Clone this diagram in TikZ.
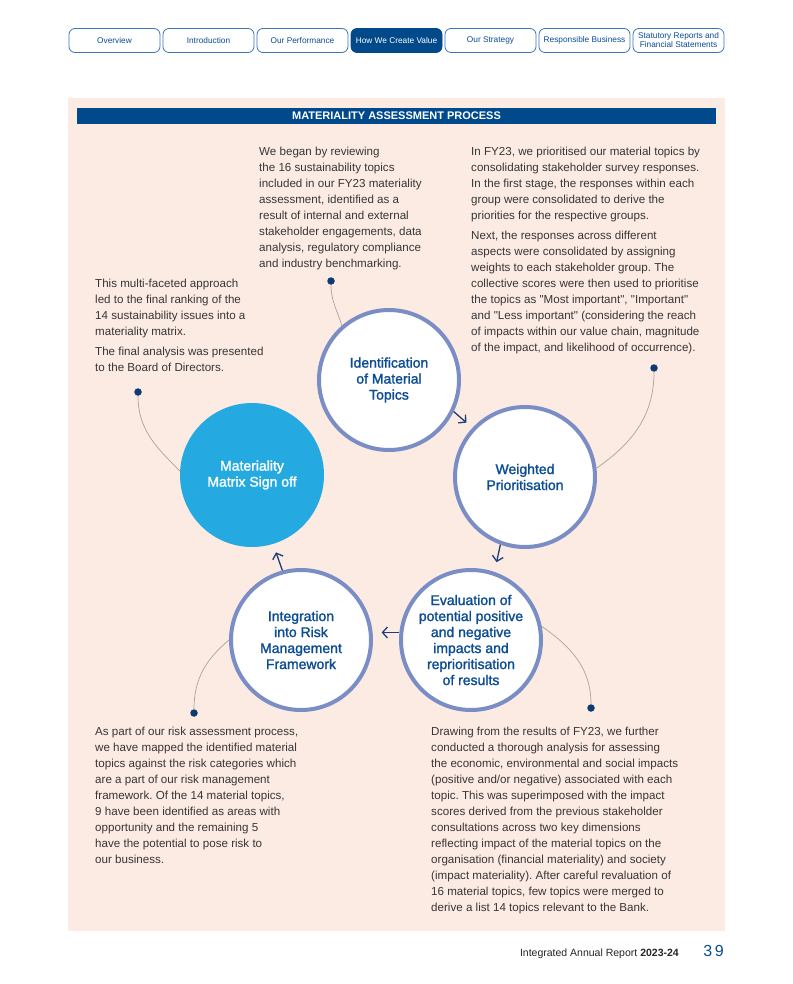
\documentclass[tikz,border=0pt]{standalone}
\usepackage{fontspec}
\setmainfont{Liberation Sans}[Ligatures=TeXOff]
\newfontfamily\stagefont[FakeBold=1.5]{Liberation Sans}
\usetikzlibrary{arrows.meta}
\frenchspacing
\definecolor{pagepink}{HTML}{FCEBE3}
\definecolor{barblue}{HTML}{004A8C}
\definecolor{ringblue}{HTML}{7B8DC5}
\definecolor{skyblue}{HTML}{24AAE1}
\definecolor{labelblue}{HTML}{0B4C94}
\definecolor{bodygrey}{HTML}{363636}
\definecolor{tabblue}{HTML}{3B74B9}
\definecolor{leadgrey}{HTML}{ABA29C}
\definecolor{dotblue}{HTML}{0E3A70}
\definecolor{tipblue}{HTML}{1C3D75}

\begin{document}
\begin{tikzpicture}[x=1pt,y=1pt]
\tikzstyle{every node}+=[inner sep=0pt]
\tikzstyle{tab}=[draw=tabblue, line width=0.8pt, rounded corners=6pt, fill=white, minimum width=91pt, minimum height=24pt, align=center, text=labelblue, font=\fontsize{8.3}{9}\selectfont]
\tikzstyle{body}=[anchor=north west, align=left, text=bodygrey, font=\fontsize{11.6}{16}\selectfont\frenchspacing]
\tikzstyle{stage}=[circle, draw=ringblue, line width=4pt, fill=white, minimum size=140pt]
\tikzstyle{stagetext}=[align=center, text=labelblue, font=\stagefont\fontsize{14}{16}\selectfont]
\tikzstyle{flow}=[draw=tipblue, line width=1.3pt, -{Straight Barb[length=5pt,width=11pt]}]
\tikzstyle{lead}=[draw=leadgrey, line width=0.7pt]
\tikzstyle{dot}=[circle, fill=dotblue, minimum size=7.5pt]
\useasboundingbox (0,0) rectangle (792,-984);
\fill [white] (0,0) rectangle (792,-984);
\foreach \i/\name in {0/Overview,1/Introduction,2/Our Performance,4/Our Strategy,5/Responsible Business,6/{Statutory Reports and\\Financial Statements}}
  \node[tab] (tab\i) at (114.5+94*\i,-40.5) {\name};
\node[tab, fill=barblue, draw=barblue, text=white] (tab3) at (396.5,-40.5) {How We Create Value};
\fill [pagepink] (68,-98) rectangle (725,-931);
\node[fill=barblue, minimum width=639pt, minimum height=16pt, text=white, font=\bfseries\fontsize{11}{12}\selectfont] (title) at (396.5,-116) {MATERIALITY ASSESSMENT PROCESS};
\node[body] (beginnote) at (259,-146.5) {We began by reviewing\\the 16 sustainability topics\\included in our FY23 materiality\\assessment, identified as a\\result of internal and external\\stakeholder engagements, data\\analysis, regulatory compliance\\and industry benchmarking.};
\node[body] (weightnote) at (471,-146.5) {In FY23, we prioritised our material topics by\\consolidating stakeholder survey responses.\\In the first stage, the responses within each\\group were consolidated to derive the\\priorities for the respective groups.\\[4pt]Next, the responses across different\\aspects were consolidated by assigning\\weights to each stakeholder group. The\\collective scores were then used to prioritise\\the topics as "Most important", "Important"\\and "Less important" (considering the reach\\of impacts within our value chain, magnitude\\of the impact, and likelihood of occurrence).};
\node[body] (signnote) at (95,-278.5) {This multi-faceted approach\\led to the final ranking of the\\14 sustainability issues into a\\materiality matrix.\\[4pt]The final analysis was presented\\to the Board of Directors.};
\node[body] (risknote) at (95,-726.5) {As part of our risk assessment process,\\we have mapped the identified material\\topics against the risk categories which\\are a part of our risk management\\framework. Of the 14 material topics,\\9 have been identified as areas with\\opportunity and the remaining 5\\have the potential to pose risk to\\our business.};
\node[body] (evalnote) at (431,-726.5) {Drawing from the results of FY23, we further\\conducted a thorough analysis for assessing\\the economic, environmental and social impacts\\(positive and/or negative) associated with each\\topic. This was superimposed with the impact\\scores derived from the previous stakeholder\\consultations across two key dimensions\\reflecting impact of the material topics on the\\organisation (financial materiality) and society\\(impact materiality). After careful revaluation of\\16 material topics, few topics were merged to\\derive a list 14 topics relevant to the Bank.};
\node[dot] (d1) at (331,-281) {};
\node[dot] (d2) at (654,-368) {};
\node[dot] (d3) at (138,-392) {};
\node[dot] (d4) at (194,-713) {};
\node[dot] (d5) at (591,-708) {};
\node[stage] (ident) at (389,-380) {};
\node[stage] (weight) at (525,-477) {};
\node[stage] (evalu) at (471,-640) {};
\node[stage] (integ) at (301,-640) {};
\node[stage, draw=skyblue, fill=skyblue] (signoff) at (252,-475) {};
\node[stagetext] (ident-t) at (ident) {Identification\\of Material\\Topics};
\node[stagetext] (weight-t) at (weight) {Weighted\\Prioritisation};
\node[stagetext] (evalu-t) at (evalu) {Evaluation of\\potential positive\\and negative\\impacts and\\reprioritisation\\of results};
\node[stagetext] (integ-t) at (integ) {Integration\\into Risk\\Management\\Framework};
\node[stagetext, text=white] (signoff-t) at (signoff) {Materiality\\Matrix Sign off};
\draw[flow, shorten >=8pt] (ident.-26) -- (weight.137);
\draw[flow, shorten >=10pt] (weight.-110) -- (evalu.71);
\draw[flow, shorten >=9pt] (evalu.174) -- (integ.6);
\draw[flow, shorten >=9pt] (integ.105) -- (signoff.-73);
\draw[lead] (ident.131) to[out=106,in=-90] (d1);
\draw[lead] (weight.7) to[out=35,in=-90] (d2);
\draw[lead] (signoff.177) to[out=135,in=-90] (d3);
\draw[lead] (integ.180) to[out=220,in=90] (d4);
\draw[lead] (evalu.11) to[out=-35,in=90] (d5);
\node[anchor=base east, text=black!85, font=\fontsize{10.5}{12}\selectfont] (foot) at (679,-956) {Integrated Annual Report \textbf{2023-24}};
\node[anchor=base east, text=labelblue, font=\fontsize{16}{16}\selectfont] (pageno) at (724,-956.5) {3\,9};
\end{tikzpicture}
\end{document}
